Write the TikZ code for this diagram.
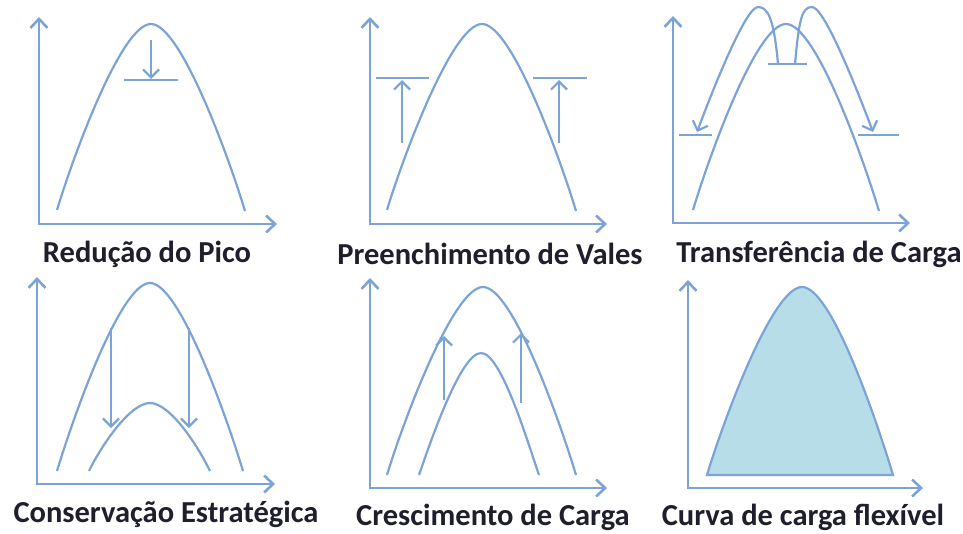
\documentclass[tikz,border=0pt]{standalone}
\usepackage{fontspec}
\setmainfont{Carlito}
\usepackage{tikz}
\usetikzlibrary{arrows.meta}
\definecolor{curveblue}{HTML}{7BA3D6}
\definecolor{areablue} {HTML}{B7DEE8}
\definecolor{labelink} {HTML}{1E1E2C}

\begin{document}
\begin{tikzpicture}[
  x=1pt, y=-1pt,
  axis/.style ={draw=curveblue,line width=2.6pt,
                {Straight Barb[length=9pt,width=17pt]}-{Straight Barb[length=9pt,width=17pt]}},
  curve/.style={draw=curveblue,line width=2.2pt},
  flow/.style ={curve,-{Straight Barb[length=8pt,width=16pt]}},
  bar/.style  ={curve},
  area/.style ={curve,fill=areablue},
  lbl/.style  ={font=\fontsize{30.5}{33}\selectfont\bfseries,text=labelink,inner sep=0pt}
]
\useasboundingbox (0,0) rectangle (963,533);

%% ===== Row 1 =====

%% 1. Reducao do Pico
\draw[axis] (39,17) -- (39,224) -- (277,224);
\draw[curve] (57,210) .. controls +(15,-50) and +(-30,0) .. (151,24)
  .. controls +(30,0) and +(-15,-50) .. (245,211);
\draw[flow] (151,40) -- (151,79);
\draw[bar] (124,80) -- (178,80);
\node[lbl] (pico) at (147,254) {Redução do Pico};

%% 2. Preenchimento de Vales
\draw[axis] (370,17) -- (370,224) -- (607,224);
\draw[curve] (387,210) .. controls +(15,-50) and +(-30,0) .. (482,24)
  .. controls +(30,0) and +(-15,-50) .. (576,211);
\draw[bar] (376,78) -- (429,78);
\draw[bar] (533,78) -- (587,78);
\draw[flow] (402,143) -- (402,80);
\draw[flow] (559,143) -- (559,80);
\node[lbl] (vales) at (490,254) {Preenchimento de Vales};

%% 3. Transferencia de Carga
\draw[axis] (673,16) -- (673,223) -- (910,223);
\draw[curve] (693,210) .. controls +(15,-50) and +(-30,0) .. (786,24)
  .. controls +(30,0) and +(-15,-50) .. (879,211);
\draw[bar] (768,64) -- (807,64);
\draw[flow] (778,64) .. controls +(-4,-45) and +(10,0) .. (758,7)
  .. controls +(-12,0) and +(18,-48) .. (697,132);
\draw[flow] (795,64) .. controls +(4,-45) and +(-10,0) .. (812,7)
  .. controls +(12,0) and +(-18,-48) .. (873,132);
\draw[bar] (679,135) -- (712,135);
\draw[bar] (858,135) -- (899,135);
\node[lbl] (transf) at (819,254) {Transferência de Carga};

%% ===== Row 2 =====

%% 4. Conservacao Estrategica
\draw[axis] (37,277) -- (37,484) -- (275,484);
\draw[curve] (57,471) .. controls +(15,-50) and +(-30,0) .. (150,283)
  .. controls +(30,0) and +(-15,-50) .. (243,471);
\draw[curve] (89,471) .. controls +(12,-25) and +(-20,0) .. (150,403)
  .. controls +(20,0) and +(-12,-25) .. (210,471);
\draw[flow] (111,328) -- (111,428);
\draw[flow] (189,328) -- (189,428);
\node[lbl] (conserv) at (166,514) {Conservação Estratégica};

%% 5. Crescimento de Carga
\draw[axis] (370,278) -- (370,488) -- (607,488);
\draw[curve] (387,475) .. controls +(15,-50) and +(-30,0) .. (483,287)
  .. controls +(30,0) and +(-15,-50) .. (576,475);
\draw[curve] (419,475) .. controls +(12,-35) and +(-20,0) .. (481,353)
  .. controls +(20,0) and +(-12,-35) .. (539,475);
\draw[flow] (444,400) -- (444,336);
\draw[flow] (521,403) -- (521,333);
\node[lbl] (cresc) at (493,517) {Crescimento de Carga};

%% 6. Curva de carga flexivel
\draw[axis] (688,280) -- (688,488) -- (923,488);
\draw[area] (707,475) .. controls +(15,-50) and +(-30,0) .. (802,287)
  .. controls +(30,0) and +(-15,-50) .. (893,475) -- cycle;
\node[lbl] (flex) at (803,517) {Curva de carga flexível};

\end{tikzpicture}
\end{document}
